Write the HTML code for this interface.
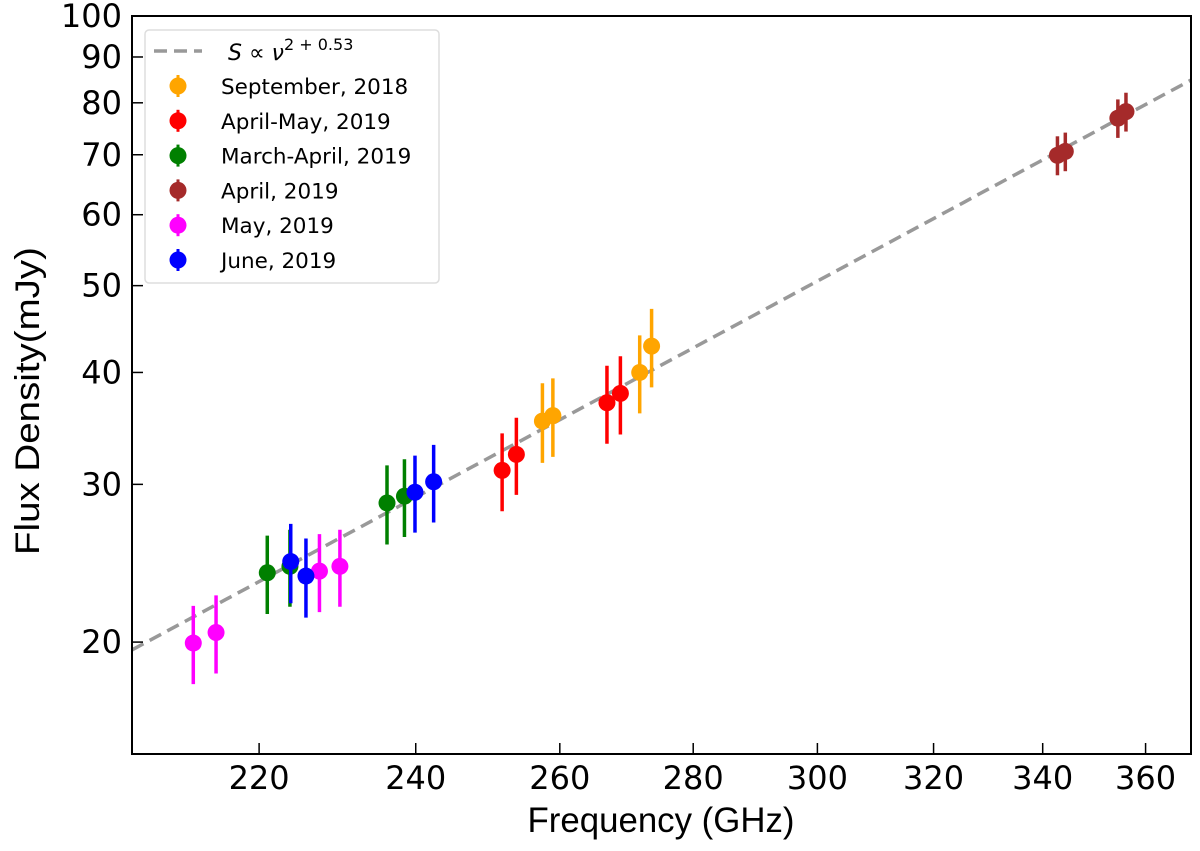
<!DOCTYPE html>
<html><head><meta charset="utf-8"><style>
html,body{margin:0;padding:0;background:#fff;}
svg{display:block;font-family:"Liberation Sans","DejaVu Sans",sans-serif;}
.dv{font-family:"DejaVu Sans","Liberation Sans",sans-serif;}
</style></head><body>
<svg id="chart" width="1200" height="851" viewBox="0 0 1200 851">
<g id="plot"></g>
</svg>
<script>
const seriesNames = ["September, 2018","April-May, 2019","March-April, 2019","April, 2019","May, 2019","June, 2019"];
const seriesColors = ["#ffa500","#ff0000","#008000","#a52a2a","#ff00ff","#0000ff"];
const sepFreq = [257.5, 259.0, 271.8, 273.6];
const sepFlux = [35.3, 35.8, 40.0, 42.8];
const sepErr = [3.6, 3.6, 4.0, 4.3];
const aprMayFreq = [251.8, 253.8, 266.9, 268.9];
const aprMayFlux = [31.1, 32.4, 37.0, 37.9];
const aprMayErr = [3.1, 3.2, 3.7, 3.8];
const marAprFreq = [221.0, 223.8, 236.2, 238.5];
const marAprFlux = [23.9, 24.3, 28.6, 29.1];
const marAprErr = [2.4, 2.4, 2.9, 2.9];
const aprFreq = [342.8, 344.3, 354.5, 356.1];
const aprFlux = [69.9, 70.6, 76.9, 78.2];
const aprErr = [3.5, 3.5, 3.8, 3.9];
const mayFreq = [212.1, 214.8, 227.5, 230.1];
const mayFlux = [19.95, 20.5, 24.0, 24.3];
const mayErr = [2.0, 2.05, 2.4, 2.4];
const junFreq = [223.9, 225.8, 239.9, 242.4];
const junFlux = [24.6, 23.7, 29.4, 30.2];
const junErr = [2.5, 2.4, 2.9, 3.0];
const xTicks = [220, 240, 260, 280, 300, 320, 340, 360];
const yTicks = [20, 30, 40, 50, 60, 70, 80, 90, 100];
const fitNorm = 19.6, fitRef = 205, fitIndex = 2.49;

const L=132, R=1191, T=16, B=754;
const xMin=205.0, xMax=369.2, yMin=15.0, yMax=100.0;
function xs(f){return L+(R-L)*Math.log(f/xMin)/Math.log(xMax/xMin);}
function ys(v){return B-(B-T)*Math.log(v/yMin)/Math.log(yMax/yMin);}

const NS="http://www.w3.org/2000/svg";
const svg=document.getElementById('chart');
const plot=document.getElementById('plot');
function mk(tag,attrs,parent){const e=document.createElementNS(NS,tag);for(const k in attrs)e.setAttribute(k,attrs[k]);(parent||svg).appendChild(e);return e;}

const defs=mk('defs',{});
const cp=mk('clipPath',{id:'clip'},defs);
mk('rect',{x:L,y:T,width:R-L,height:B-T},cp);
plot.setAttribute('clip-path','url(#clip)');

const fitPts=[];
for(let i=0;i<=60;i++){const f=xMin+(xMax-xMin)*i/60;fitPts.push(xs(f).toFixed(1)+','+ys(fitNorm*Math.pow(f/fitRef,fitIndex)).toFixed(1));}
const fit=mk('polyline',{points:fitPts.join(' '),fill:'none',stroke:'#999','stroke-width':3.5,'stroke-dasharray':'13,7'},plot);



const allF=[sepFreq,aprMayFreq,marAprFreq,aprFreq,mayFreq,junFreq];
const allV=[sepFlux,aprMayFlux,marAprFlux,aprFlux,mayFlux,junFlux];
const allE=[sepErr,aprMayErr,marAprErr,aprErr,mayErr,junErr];
const order=[4,2,5,1,0,3];
order.forEach(s=>{
  const g=mk('g',{},plot);
  
  
  allF[s].forEach((f,i)=>{
    const x=xs(f),v=allV[s][i],e=allE[s][i];
    const eb=mk('line',{x1:x,x2:x,y1:ys(v+e),y2:ys(v-e),stroke:seriesColors[s],'stroke-width':3.5},g);
    
    
    const c=mk('circle',{cx:x,cy:ys(v),r:8.5,fill:seriesColors[s]},g);
    
    
  });
});

const fr=mk('rect',{x:L,y:T,width:R-L,height:B-T,fill:'none',stroke:'#000','stroke-width':2});



xTicks.forEach(t=>{
  const x=xs(t);
  const tl=mk('line',{x1:x,x2:x,y1:B,y2:B-11,stroke:'#000','stroke-width':1.5});
  
  
  const tx=mk('text',{x:x,y:B+35,'text-anchor':'middle','font-size':32,'class':'dv'});
  tx.textContent=t;
  
  
});
yTicks.forEach(t=>{
  const y=ys(t);
  const tl=mk('line',{x1:L,x2:L+11,y1:y,y2:y,stroke:'#000','stroke-width':1.5});
  
  
  const tx=mk('text',{x:L-10,y:y+11,'text-anchor':'end','font-size':32,'class':'dv'});
  tx.textContent=t;
  
  
});

const xl=mk('text',{x:661,y:832,'text-anchor':'middle','font-size':35,textLength:267,lengthAdjust:'spacingAndGlyphs'});
xl.textContent='Frequency (GHz)';


const yl=mk('text',{x:0,y:0,'text-anchor':'middle','font-size':34,textLength:308,lengthAdjust:'spacingAndGlyphs',transform:'translate(39,401) rotate(-90)'});
yl.textContent='Flux Density(mJy)';



const lg=mk('g',{});


mk('rect',{x:145,y:30,width:294,height:253,rx:4,fill:'#fff',stroke:'#ddd','stroke-width':1.5},lg);
mk('line',{x1:154,x2:202,y1:51,y2:51,stroke:'#999','stroke-width':3.5,'stroke-dasharray':'13,7'},lg);
const ft=mk('text',{x:228,y:60,'font-size':22,'font-style':'italic','class':'dv'},lg);
ft.innerHTML='S <tspan font-style="normal">∝</tspan> ν<tspan dy="-10" font-size="16" font-style="normal">2 + 0.53</tspan>';


seriesNames.forEach((n,i)=>{
  const y=86+i*34.8;
  const e=mk('g',{},lg);
  
  
  mk('line',{x1:178,x2:178,y1:y-11,y2:y+11,stroke:seriesColors[i],'stroke-width':3},e);
  mk('circle',{cx:178,cy:y,r:8.5,fill:seriesColors[i]},e);
  const t=mk('text',{x:221,y:y+8,'font-size':21.5,'class':'dv'},e);
  t.textContent=n;
});
</script>
</body></html>
